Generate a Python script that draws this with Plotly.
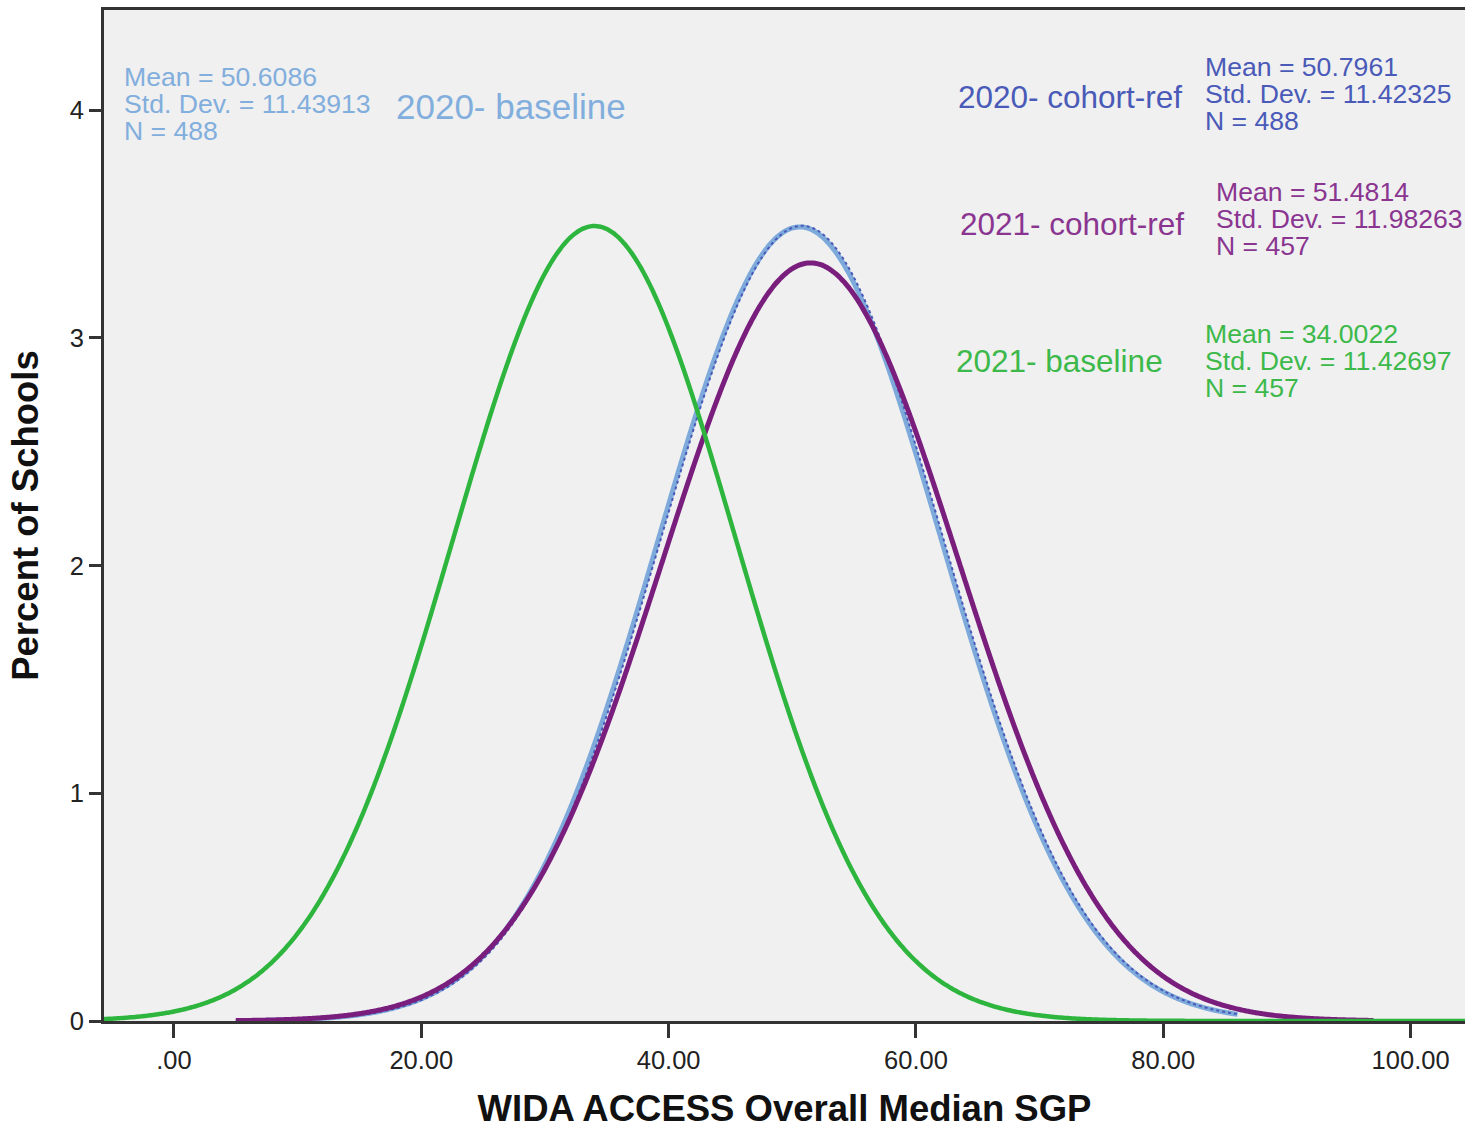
import numpy as np
import plotly.graph_objects as go

# Fitted normal curves of school-level median SGP, one per model/year
series_names = ["2020- baseline", "2020- cohort-ref", "2021- cohort-ref", "2021- baseline"]
series_means = [50.6086, 50.7961, 51.4814, 34.0022]
series_sds = [11.43913, 11.42325, 11.98263, 11.42697]
series_ns = [488, 488, 457, 457]
series_x_from = [5.0, 5.0, 5.0, -5.7]
series_x_to = [86.0, 86.0, 97.0, 104.5]

x_tick_vals = [0, 20, 40, 60, 80, 100]
x_tick_text = [".00", "20.00", "40.00", "60.00", "80.00", "100.00"]
y_tick_vals = [0, 1, 2, 3, 4]

colors = {
    "2020- baseline": "#7DAADB",
    "2020- cohort-ref": "#4A58B8",
    "2021- cohort-ref": "#7A1E7E",
    "2021- baseline": "#2DB53E",
}
text_colors = {
    "2020- baseline": "#82AEDD",
    "2020- cohort-ref": "#4A5AB8",
    "2021- cohort-ref": "#8A3590",
    "2021- baseline": "#3CB94A",
}
line_styles = {
    "2020- baseline": dict(width=5, dash="solid"),
    "2020- cohort-ref": dict(width=2, dash="dot"),
    "2021- cohort-ref": dict(width=5, dash="solid"),
    "2021- baseline": dict(width=4.5, dash="solid"),
}

FONT = "Liberation Sans, Arial, sans-serif"
W, H = 1465, 1129
L, R, T, B = 104, 0, 10, 108


def normal_percent(x, mean, sd):
    # percent of schools per unit of SGP under the fitted normal
    return 100.0 * np.exp(-0.5 * ((x - mean) / sd) ** 2) / (sd * np.sqrt(2 * np.pi))


fig = go.Figure()
# drawn in order: 2020 pair first, then purple and green on top
for name, m, s, a, b in zip(series_names, series_means, series_sds, series_x_from, series_x_to):
    xs = np.linspace(a, b, 600)
    fig.add_trace(go.Scatter(
        x=xs, y=normal_percent(xs, m, s), mode="lines", name=name,
        line=dict(color=colors[name], shape="spline", **line_styles[name]),
        hoverinfo="skip", showlegend=False,
    ))

pw, ph = W - L - R, H - T - B


def px(xp):
    return (xp - L) / pw


def py(yp):
    return (H - B - yp) / ph


def stat_lines(i):
    return [f"Mean = {series_means[i]}", f"Std. Dev. = {series_sds[i]}", f"N = {series_ns[i]}"]


annots = []


def add_text(text, xp, yp, color, size):
    annots.append(dict(text=text, x=px(xp), y=py(yp), xref="paper", yref="paper",
                       xanchor="left", yanchor="middle", showarrow=False,
                       font=dict(family=FONT, size=size, color=color)))


# label and summary stats blocks: (series index, name x, name y, name size, stats x, stats top y)
blocks = [
    (0, 394, 107, 35, 122, 77),
    (1, 956, 97, 31.5, 1203, 67),
    (2, 958, 224, 31.5, 1214, 192),
    (3, 954, 361, 31.5, 1203, 334),
]
for i, nx, ny, ns_, sx, sy in blocks:
    name = series_names[i]
    add_text(name, nx, ny, text_colors[name], ns_)
    for k, line in enumerate(stat_lines(i)):
        add_text(line, sx, sy + 27 * k, text_colors[name], 26.6)

fig.update_layout(
    width=W, height=H,
    margin=dict(l=L, r=R, t=T, b=B),
    paper_bgcolor="white", plot_bgcolor="#F0F0F0",
    annotations=annots,
    font=dict(family=FONT, color="#222222"),
)
fig.update_xaxes(
    range=[-5.66, 104.4], tickvals=x_tick_vals, ticktext=x_tick_text,
    showgrid=False, zeroline=False,
    showline=True, linecolor="#333333", linewidth=3, mirror=True,
    ticks="outside", ticklen=14, tickwidth=3, tickcolor="#333333",
    tickfont=dict(family=FONT, size=25.5, color="#222222"),
    title=dict(text="<b>WIDA ACCESS Overall Median SGP</b>", standoff=27,
               font=dict(family=FONT, size=36.5, color="#111111")),
)
fig.update_yaxes(
    range=[0, 4.44], tickvals=y_tick_vals,
    showgrid=False, zeroline=False,
    showline=True, linecolor="#333333", linewidth=3,
    ticks="outside", ticklen=12, tickwidth=3, tickcolor="#333333",
    tickfont=dict(family=FONT, size=25.5, color="#222222"),
    title=dict(text="<b>Percent of Schools</b>", standoff=20,
               font=dict(family=FONT, size=36.5, color="#111111")),
)

fig.write_html("out.html")
